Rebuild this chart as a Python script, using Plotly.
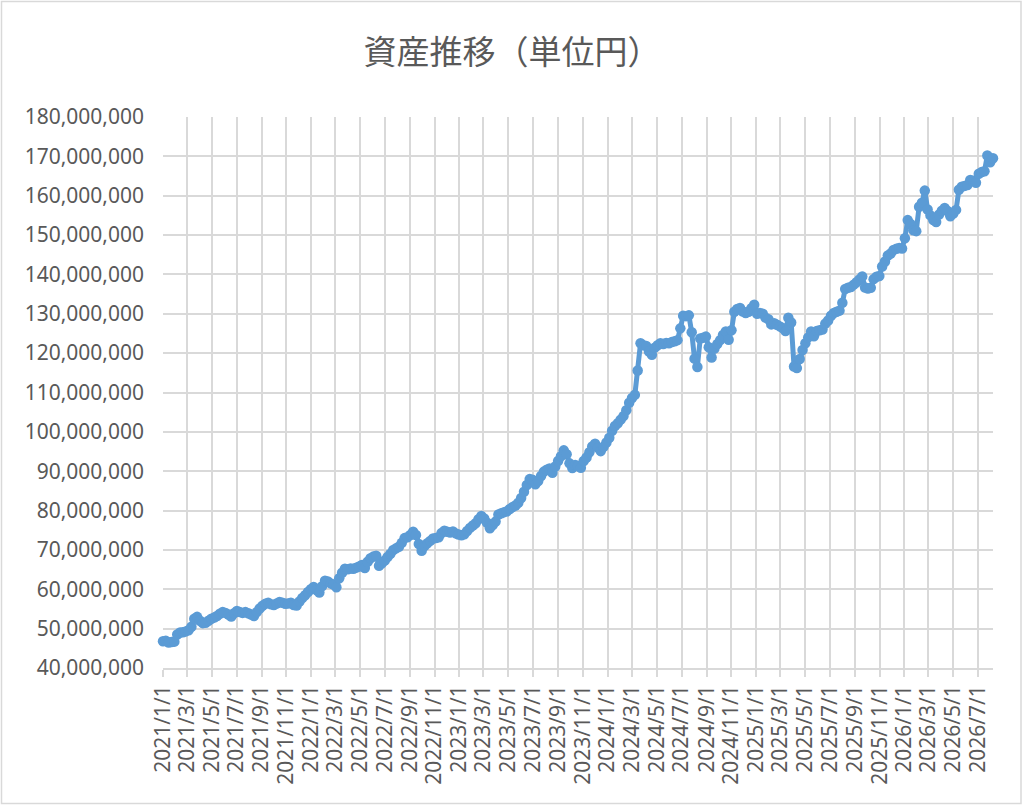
import plotly.graph_objects as go
import pandas as pd

title_text = "資産推移（単位円）"
start_date = "2021-01-01"

# weekly totals, in millions of yen
assets_m = [
    46.8, 46.9, 46.5, 46.6, 46.7, 48.5, 49.0, 49.1, 49.3, 49.6,
    50.5, 52.5, 53.0, 52.0, 51.4, 51.5, 52.0, 52.5, 52.8, 53.2,
    53.8, 54.2, 54.0, 53.6, 53.1, 53.9, 54.5, 54.2, 54.0, 54.2,
    53.9, 53.6, 53.2, 54.2, 55.1, 55.8, 56.3, 56.6, 56.2, 56.0,
    56.4, 56.8, 56.6, 56.3, 56.4, 56.6, 56.0, 55.9, 56.9, 57.8,
    58.5, 59.3, 60.0, 60.6, 59.8, 59.2, 60.8, 62.2, 62.0, 61.5,
    61.2, 60.5, 62.8, 64.2, 65.2, 65.1, 65.3, 65.2, 65.5, 65.8,
    66.2, 65.4, 67.0, 67.9, 68.3, 68.5, 66.0, 66.6, 67.3, 68.2,
    69.0, 70.0, 70.4, 70.8, 71.8, 73.0, 73.2, 73.8, 74.6, 73.8,
    71.5, 69.8, 71.0, 71.7, 72.3, 72.9, 73.0, 73.2, 74.3, 74.9,
    74.6, 74.4, 74.7, 74.2, 73.9, 73.7, 74.0, 74.8, 75.6, 76.2,
    76.8, 77.8, 78.6, 78.0, 76.9, 75.5, 76.3, 77.2, 79.0, 79.3,
    79.6, 79.8, 80.4, 80.9, 81.3, 82.0, 83.2, 84.8, 86.5, 88.0,
    87.8, 86.7, 87.5, 88.8, 89.9, 90.4, 90.7, 89.6, 91.2, 92.6,
    93.8, 95.3, 94.3, 92.0, 90.8, 91.6, 91.3, 90.9, 92.6, 93.5,
    94.8, 96.3, 97.0, 96.0, 95.1, 96.2, 97.3, 98.5, 100.3, 101.5,
    102.2, 103.1, 104.0, 105.5, 107.4, 108.6, 109.4, 115.6, 122.5, 122.0,
    121.8, 120.4, 119.6, 121.4, 122.0, 122.5, 122.3, 122.6, 122.5, 122.8,
    123.0, 123.3, 126.3, 129.5, 129.4, 129.6, 125.3, 118.6, 116.5, 123.7,
    123.9, 124.2, 121.5, 118.9, 121.2, 122.3, 123.3, 124.6, 125.5, 123.4,
    125.8, 130.5, 131.2, 131.5, 130.6, 130.2, 130.5, 131.4, 132.3, 130.0,
    130.2, 130.0, 129.0, 128.6, 127.3, 127.6, 127.2, 126.8, 126.4, 125.6,
    129.0, 127.8, 116.6, 116.2, 118.5, 120.8, 122.5, 124.0, 125.5, 124.3,
    125.6, 125.8, 126.0, 127.5, 128.3, 129.5, 130.2, 130.5, 130.8, 132.8,
    136.3, 136.6, 136.8, 137.4, 138.0, 138.7, 139.5, 136.7, 136.4, 136.6,
    138.8, 139.4, 139.6, 142.0, 143.3, 144.8, 145.3, 146.2, 146.5, 146.7,
    146.6, 149.2, 153.8, 152.8, 151.2, 151.0, 157.2, 158.2, 161.3, 156.5,
    155.0, 153.8, 153.3, 155.2, 156.2, 156.9, 156.1, 154.8, 155.5, 156.4,
    161.5, 162.3, 162.5, 162.7, 164.0, 163.8, 163.3, 165.6, 166.0, 166.2,
    170.2, 168.5, 169.5,
]

dates = pd.date_range(start_date, periods=len(assets_m), freq="7D")
assets = [v * 1_000_000 for v in assets_m]

grey_text = "#595959"
grid = "#d9d9d9"
blue = "#5b9bd5"

fig = go.Figure()
fig.add_trace(go.Scatter(
    x=dates, y=assets, mode="lines+markers",
    line=dict(color=blue, width=5),
    marker=dict(color=blue, size=10.5),
    cliponaxis=False, showlegend=False,
))

fig.update_layout(
    width=1024, height=806,
    margin=dict(l=163, r=31, t=117, b=138),
    paper_bgcolor="white", plot_bgcolor="white",
    font=dict(family="Noto Sans, Noto Sans CJK JP", size=21, color=grey_text),
    title=dict(
        text=title_text, x=0.5, xref="container", xanchor="center",
        y=1 - 52 / 806, yanchor="middle",
        font=dict(family="Noto Sans CJK JP", size=33, color=grey_text),
    ),
    shapes=[dict(
        type="rect", xref="paper", yref="paper",
        x0=(1.5 - 163) / 830, x1=(1021 - 163) / 830,
        y0=(668 - 803.5) / 551, y1=(668 - 1.5) / 551,
        line=dict(color=grid, width=1.5), fillcolor="rgba(0,0,0,0)", layer="below",
    )],
)

fig.update_yaxes(
    range=[40_000_000, 180_000_000], dtick=10_000_000,
    tickformat=",d", showgrid=True, gridcolor=grid, gridwidth=1.5,
    zeroline=False, showline=False, ticks="", ticklabelstandoff=18,
)
fig.update_xaxes(
    type="date", range=[dates[0], dates[-1]],
    tick0=start_date, dtick="M2", tickformat="%Y/%-m/%-d", tickangle=-90,
    showgrid=True, gridcolor=grid, gridwidth=1.5,
    showline=True, linecolor=grid, linewidth=1.5,
    ticks="outside", ticklen=7, tickcolor=grid, tickwidth=1.5,
    zeroline=False,
)

# page body has an 8px default margin; drop it so the chart sits at 0,0
fig.write_html(
    "out.html",
    config={"displayModeBar": False},
    post_script="document.body.style.margin='0';",
)
